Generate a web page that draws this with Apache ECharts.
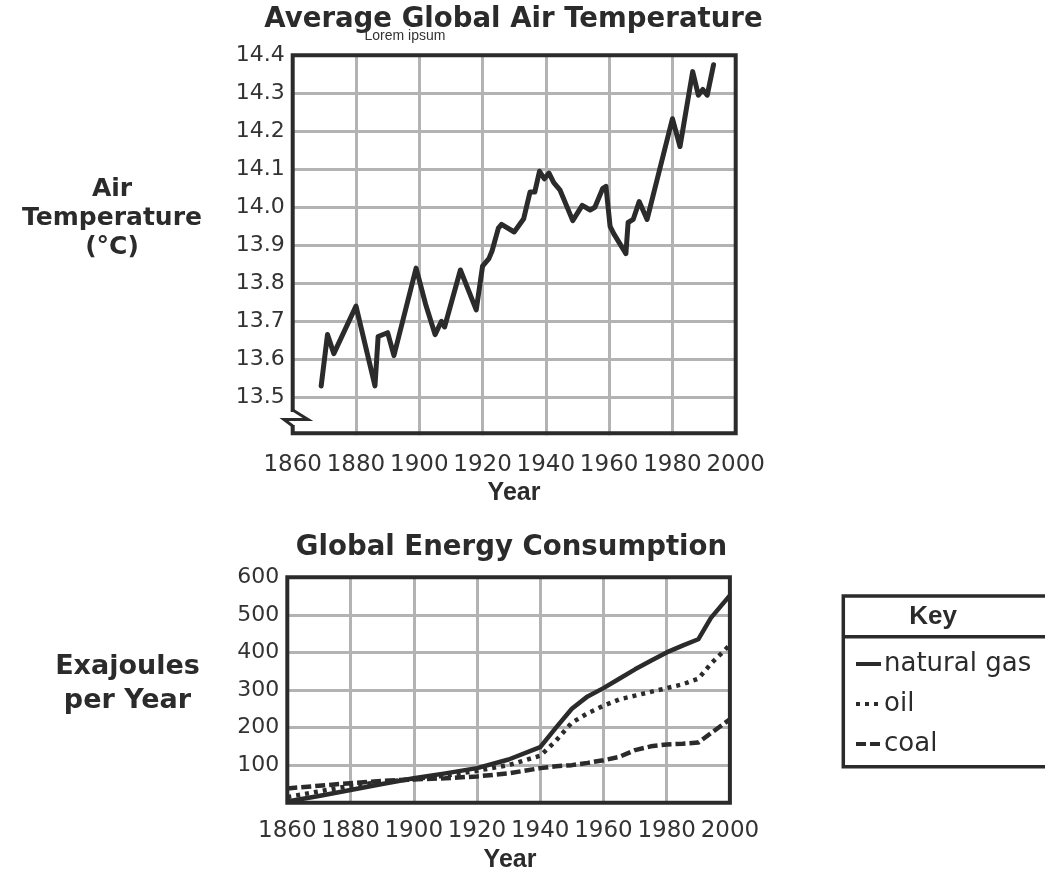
<!DOCTYPE html>
<html><head><meta charset="utf-8">
<script src="https://cdn.jsdelivr.net/npm/echarts@6/dist/echarts.min.js"></script>
<style>html,body{margin:0;padding:0;background:#fff}#c{width:1045px;height:875px}</style>
</head><body><div id="c"></div>
<script>
// ---- data ----
const tempYears = [1869,1871,1873,1880,1886,1887,1890,1892,1899,1902,1905,1907,1908,1913,1918,1920,1922,1923,1925,1926,1930,1933,1935,1936.5,1938,1939.5,1941,1942.5,1944.5,1948.5,1951.5,1954,1955.5,1958,1959,1960.3,1961.5,1965.3,1966,1967.6,1969.5,1972,1980,1982.4,1986.4,1988.2,1989.6,1991,1993];
const tempValues = [13.53,13.665,13.615,13.74,13.53,13.66,13.67,13.61,13.84,13.745,13.665,13.70,13.685,13.835,13.73,13.845,13.865,13.885,13.945,13.955,13.935,13.97,14.04,14.04,14.095,14.075,14.09,14.065,14.045,13.965,14.005,13.993,14.0,14.05,14.055,13.95,13.93,13.878,13.96,13.968,14.015,13.968,14.233,14.16,14.357,14.295,14.31,14.295,14.375];

const energyYears = [1860,1870,1880,1890,1900,1910,1920,1930,1940,1945,1950,1955,1960,1965,1970,1975,1980,1985,1990,1994,2000];
const gasValues  = [3,18,34,50,65,78,92,115,148,200,250,283,305,330,355,378,400,418,435,492,552];
const oilValues  = [15,30,45,55,63,72,85,100,125,165,213,238,258,275,285,295,305,315,330,370,420];
const coalValues = [38,45,52,58,62,65,70,78,92,97,100,106,113,122,140,150,155,157,160,185,222];

const seriesNames = ['natural gas','oil','coal'];
const tempTitle = 'Average Global Air Temperature';
const energyTitle = 'Global Energy Consumption';

// ---- layout / style ----
const INK = '#2b2b2b', GRIDC = '#b3b3b3';
const G1 = {left: 292.7, top: 55.3, width: 443, height: 380};
const G2 = {left: 287.3, top: 577.3, width: 442.6, height: 225.4};
const pairs = (xs, ys) => xs.map((x, i) => [x, ys[i]]);

const chart = echarts.init(document.getElementById('c'));

function xAx(gi, bottomMargin) {
  return {
    gridIndex: gi, type: 'value', min: 1860, max: 2000, interval: 20,
    axisLine: {show: false}, axisTick: {show: false},
    axisLabel: {fontSize: 23, color: '#333', fontFamily: 'DejaVu Sans', margin: bottomMargin,
      formatter: v => String(v)},
    splitLine: {show: true, showMinLine: false, showMaxLine: false, lineStyle: {color: GRIDC, width: 3}}
  };
}

const option = {
  animation: false,
  backgroundColor: '#fff',
  grid: [
    Object.assign({containLabel: false}, G1),
    Object.assign({containLabel: false}, G2)
  ],
  xAxis: [xAx(0, 18), xAx(1, 17)],
  yAxis: [
    {
      gridIndex: 0, type: 'value', min: 13.4, max: 14.4, interval: 0.1,
      axisLine: {show: false}, axisTick: {show: false},
      axisLabel: {fontSize: 22, color: '#333', fontFamily: 'DejaVu Sans', margin: 8,
        formatter: v => (v < 13.45 ? '' : v.toFixed(1))},
      splitLine: {show: true, showMinLine: false, showMaxLine: false, lineStyle: {color: GRIDC, width: 3}}
    },
    {
      gridIndex: 1, type: 'value', min: 0, max: 600, interval: 100,
      axisLine: {show: false}, axisTick: {show: false},
      axisLabel: {fontSize: 22, color: '#333', fontFamily: 'DejaVu Sans', margin: 8,
        formatter: v => (v === 0 ? '' : String(v))},
      splitLine: {show: true, showMinLine: false, showMaxLine: false, lineStyle: {color: GRIDC, width: 3}}
    }
  ],
  legend: {
    data: seriesNames, orient: 'vertical', left: 849, top: 646,
    itemWidth: 25, itemHeight: 14, itemGap: 14,
    itemStyle: {opacity: 0},
    lineStyle: {width: 4},
    textStyle: {fontSize: 26, fontFamily: 'DejaVu Sans', color: INK, padding: [0,0,0,-2]}
  },
  series: [
    {type: 'line', xAxisIndex: 0, yAxisIndex: 0, data: pairs(tempYears, tempValues), symbol: 'none',
     lineStyle: {color: INK, width: 5, cap: 'round', join: 'round'}, z: 3},
    {name: seriesNames[0], type: 'line', xAxisIndex: 1, yAxisIndex: 1, data: pairs(energyYears, gasValues), symbol: 'none',
     itemStyle: {color: INK}, lineStyle: {color: INK, width: 4.5, join: 'round'}, z: 3},
    {name: seriesNames[1], type: 'line', xAxisIndex: 1, yAxisIndex: 1, data: pairs(energyYears, oilValues), symbol: 'none',
     itemStyle: {color: INK}, lineStyle: {color: INK, width: 4.5, type: [4, 5]}, z: 3},
    {name: seriesNames[2], type: 'line', xAxisIndex: 1, yAxisIndex: 1, data: pairs(energyYears, coalValues), symbol: 'none',
     itemStyle: {color: INK}, lineStyle: {color: INK, width: 4.5, type: [10, 4]}, z: 3}
  ],
  graphic: [
    // frames
    {type: 'rect', z: 100, shape: {x: G1.left, y: G1.top, width: G1.width, height: G1.height - 2},
     style: {fill: null, stroke: INK, lineWidth: 4}},
    {type: 'rect', z: 100, shape: {x: G2.left, y: G2.top, width: G2.width, height: G2.height},
     style: {fill: null, stroke: INK, lineWidth: 4}},
    // axis break
    {type: 'rect', z: 101, shape: {x: 288, y: 412, width: 9, height: 13}, style: {fill: '#fff'}},
    {type: 'polyline', z: 102, shape: {points: [[292.7, 410], [308, 419.5], [284, 419.5], [292.7, 426]]},
     style: {fill: null, stroke: INK, lineWidth: 3, lineJoin: 'miter'}},
    // titles
    {type: 'text', z: 110, x: 513.5, y: 20, style: {text: tempTitle, font: 'bold 27.6px "DejaVu Sans"', fill: INK, align: 'center', verticalAlign: 'middle'}},
    {type: 'text', z: 111, x: 405, y: 36, style: {text: 'Lorem ipsum', font: '14px "Liberation Sans"', fill: '#333', align: 'center', verticalAlign: 'middle'}},
    {type: 'text', z: 110, x: 511.5, y: 548, style: {text: energyTitle, font: 'bold 27.6px "DejaVu Sans"', fill: INK, align: 'center', verticalAlign: 'middle'}},
    // axis names
    {type: 'text', z: 110, x: 112, y: 218, style: {text: 'Air\nTemperature\n(°C)', font: 'bold 25px "DejaVu Sans"', lineHeight: 29, fill: INK, align: 'center', verticalAlign: 'middle'}},
    {type: 'text', z: 110, x: 127.5, y: 684, style: {text: 'Exajoules\nper Year', font: 'bold 27px "DejaVu Sans"', lineHeight: 34, fill: INK, align: 'center', verticalAlign: 'middle'}},
    {type: 'text', z: 110, x: 514, y: 493, style: {text: 'Year', font: 'bold 25px "Liberation Sans"', fill: INK, align: 'center', verticalAlign: 'middle'}},
    {type: 'text', z: 110, x: 510, y: 860, style: {text: 'Year', font: 'bold 25px "Liberation Sans"', fill: INK, align: 'center', verticalAlign: 'middle'}},
    // key box
    {type: 'rect', z: 100, shape: {x: 843.3, y: 596, width: 260, height: 170.7}, style: {fill: null, stroke: INK, lineWidth: 3.5}},
    {type: 'line', z: 100, shape: {x1: 843.3, y1: 636.7, x2: 1045, y2: 636.7}, style: {stroke: INK, lineWidth: 3.5}},
    {type: 'text', z: 110, x: 933, y: 617, style: {text: 'Key', font: 'bold 26px "Liberation Sans"', fill: INK, align: 'center', verticalAlign: 'middle'}}
  ]
};
chart.setOption(option);
</script>
</body></html>
